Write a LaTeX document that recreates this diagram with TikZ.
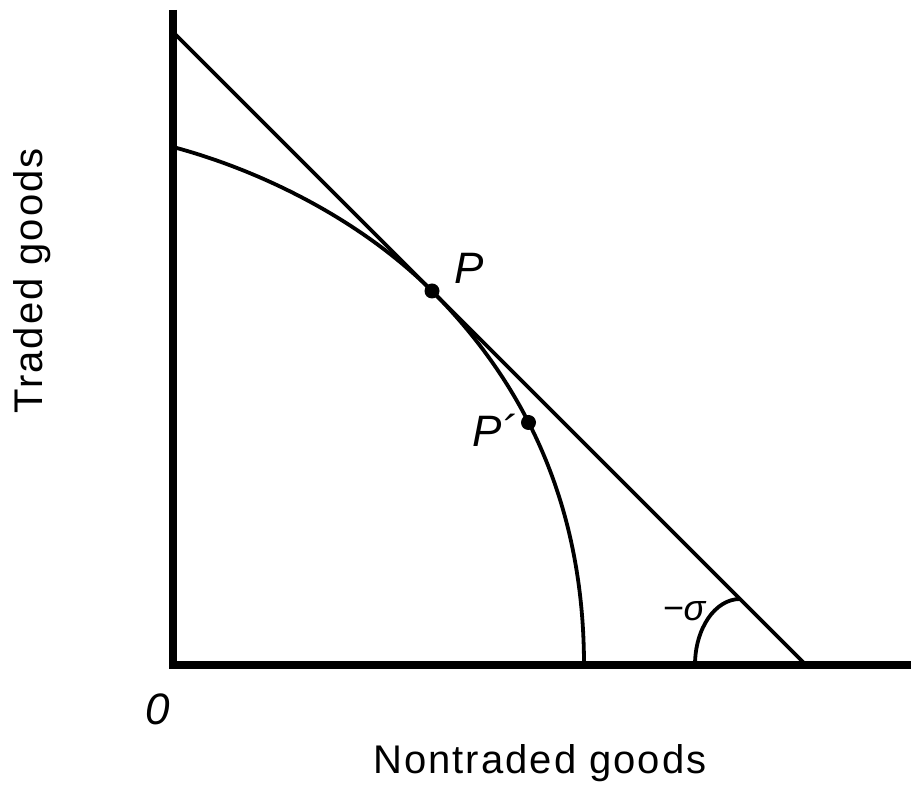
\documentclass[tikz,border=0pt]{standalone}
\usepackage{fontspec}
\setmainfont{Liberation Sans}
\newfontfamily\axisfont[LetterSpace=5]{Liberation Sans}
\usetikzlibrary{
    positioning,
    backgrounds
}
\tikzset{
    axis/.style={
        line width=7.5pt,
        line join=miter,
    },
    curve/.style={
        line width=3.8pt,
    },
    dot/.style={
        circle,
        fill=black,
        inner sep=0pt,
        minimum size=15pt,
    },
    axislabel/.style={
        font=\axisfont\fontsize{40}{46}\selectfont,
        inner sep=0pt,
    },
    ptlabel/.style={
        font=\fontsize{44}{50}\selectfont\itshape,
        inner sep=0pt,
    },
}

\begin{document}
\begin{tikzpicture}[x=1pt,y=1pt]
            \useasboundingbox (-173,-125) rectangle (738,665);

            \tikzset{
                on grid,
                anglelabel/.style={font=\fontsize{36}{42}\selectfont\itshape,inner sep=0pt},
            }

            \coordinate (origin) at (0,0);
            \coordinate (ytop) at (0,655);
            \coordinate (xend) at (738,0);
            \coordinate (ycut) at (0,633);
            \coordinate (xcut) at (633,0);
            \coordinate (fstart) at (0,518);
            \coordinate (fend) at (411,0);
            \coordinate (arcstart) at (522,0);

            \node[dot] (p) at (259,374) {};
            \node[dot] (pprime) at (355.5,242.5) {};

            \node[ptlabel,above right=23pt and 37pt of p,anchor=center] (plabel) {P};
            \node[ptlabel,below left=8pt and 34pt of pprime,anchor=center] (pprimelabel) {P´};
            \node[ptlabel,below left=44pt and 15pt of origin,anchor=center] (zero) {0};
            \node[anglelabel,above left=54pt and 122pt of xcut,anchor=center] (sigma) {−σ};

            \node[axislabel,below right=98pt and 367pt of origin,anchor=center] (xlabel) {Nontraded goods};
            \node[axislabel,rotate=90,above left=384pt and 141pt of origin,anchor=center] (ylabel) {Traded goods};

            \begin{scope}[on background layer]
                \draw[curve] (ycut) -- (xcut);
                \draw[curve] (fstart) .. controls +(90,-24) and +(-70,70) .. (p.center)
                    .. controls +(100,-100) and +(0,150) .. (fend);
                \draw[curve] (arcstart) arc[start angle=180, end angle=90, x radius=45, y radius=66];
            \end{scope}

            \draw[axis] (ytop) -- (origin) -- (xend);
        \end{tikzpicture}
\end{document}
